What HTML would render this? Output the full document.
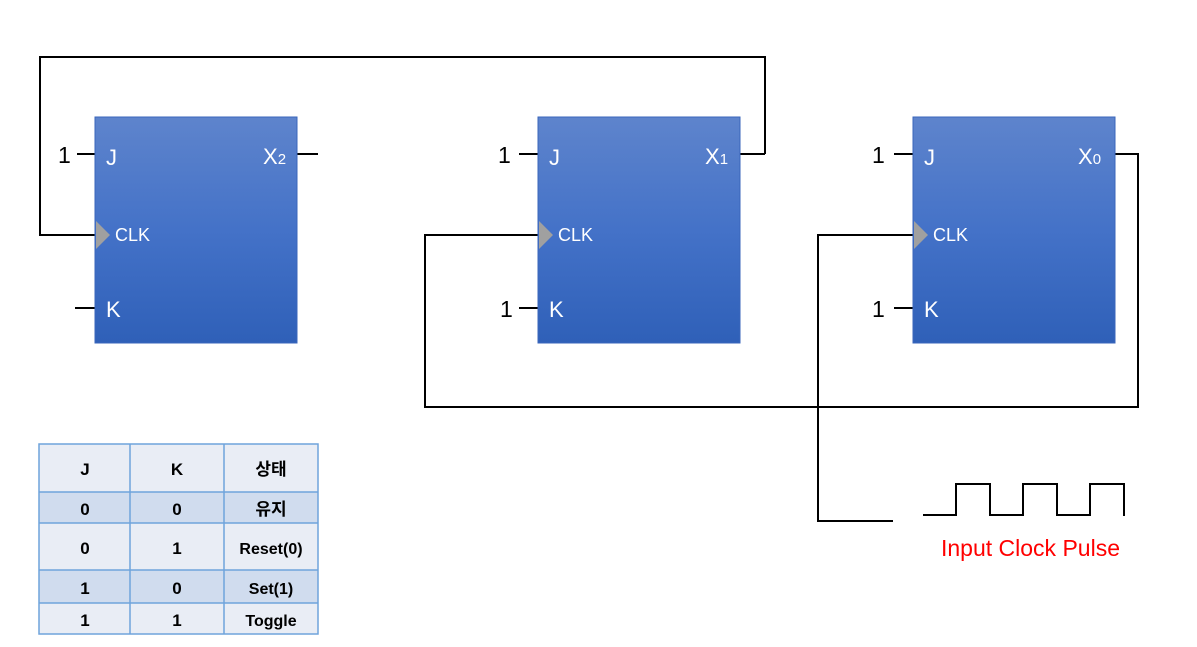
<!DOCTYPE html>
<html><head><meta charset="utf-8"><style>
html,body{margin:0;padding:0;background:#fff;width:1197px;height:647px;overflow:hidden}
svg text{font-family:"Liberation Sans","Noto Sans CJK KR",sans-serif}
</style></head><body>
<svg width="1197" height="647" viewBox="0 0 1197 647" xmlns="http://www.w3.org/2000/svg">
<defs>
<linearGradient id="g" x1="0" y1="0" x2="0" y2="1">
<stop offset="0" stop-color="#5e84cc"/><stop offset="0.5" stop-color="#4472c8"/><stop offset="1" stop-color="#2f60b8"/>
</linearGradient>
</defs>
<g fill="none" stroke="#000" stroke-width="2">
<polyline points="765,154 765,57 40,57 40,235 95,235"/>
<line x1="740" y1="154" x2="765" y2="154"/>
<polyline points="1115,154 1138,154 1138,407 425,407 425,235 538,235"/>
<polyline points="913,235 818,235 818,521 893,521"/>
<polyline points="923,515 956,515 956,484 990,484 990,515 1023,515 1023,484 1057,484 1057,515 1090,515 1090,484 1124,484 1124,516"/>
<line x1="297" y1="154" x2="318" y2="154"/>
<line x1="77" y1="154" x2="95" y2="154"/><line x1="75" y1="308" x2="95" y2="308"/>
<line x1="519" y1="154" x2="538" y2="154"/><line x1="519" y1="308" x2="538" y2="308"/>
<line x1="894" y1="154" x2="913" y2="154"/><line x1="894" y1="308" x2="913" y2="308"/>
</g>
<g>
<rect x="95" y="117" width="202" height="226" fill="url(#g)" stroke="#3a66bb"/>
<rect x="538" y="117" width="202" height="226" fill="url(#g)" stroke="#3a66bb"/>
<rect x="913" y="117" width="202" height="226" fill="url(#g)" stroke="#3a66bb"/>
<polygon points="96,221 110,235 96,249" fill="#a0a0a0"/>
<polygon points="539,221 553,235 539,249" fill="#a0a0a0"/>
<polygon points="914,221 928,235 914,249" fill="#a0a0a0"/>
</g>
<g font-size="23" fill="#000">
<text x="58" y="163">1</text><text x="498" y="163">1</text><text x="872" y="163">1</text>
<text x="500" y="317">1</text><text x="872" y="317">1</text>
</g>
<g fill="#fff">
<g font-size="22"><text x="106" y="165">J</text><text x="549" y="165">J</text><text x="924" y="165">J</text>
<text x="106" y="317">K</text><text x="549" y="317">K</text><text x="924" y="317">K</text>
<text x="263" y="164">X<tspan font-size="15">2</tspan></text>
<text x="705" y="164">X<tspan font-size="15">1</tspan></text>
<text x="1078" y="164">X<tspan font-size="15">0</tspan></text></g>
<g font-size="18"><text x="115" y="241">CLK</text><text x="558" y="241">CLK</text><text x="933" y="241">CLK</text></g>
</g>
<text x="941" y="556" font-size="23" fill="#f00">Input Clock Pulse</text>
<g>
<rect x="39" y="444" width="279" height="48" fill="#e9edf5"/>
<rect x="39" y="492" width="279" height="31" fill="#d0dcee"/>
<rect x="39" y="523" width="279" height="47" fill="#e9edf5"/>
<rect x="39" y="570" width="279" height="33" fill="#d0dcee"/>
<rect x="39" y="603" width="279" height="31" fill="#e9edf5"/>
<g stroke="#6fa3dc" stroke-width="1.5" fill="none">
<rect x="39" y="444" width="279" height="190"/>
<line x1="130" y1="444" x2="130" y2="634"/><line x1="224" y1="444" x2="224" y2="634"/>
<line x1="39" y1="492" x2="318" y2="492"/><line x1="39" y1="523" x2="318" y2="523"/>
<line x1="39" y1="570" x2="318" y2="570"/><line x1="39" y1="603" x2="318" y2="603"/>
</g>
<g font-size="17" font-weight="bold" text-anchor="middle" fill="#000">
<text x="85" y="475">J</text><text x="177" y="475">K</text><text x="271" y="475">상태</text>
<text x="85" y="515">0</text><text x="177" y="515">0</text><text x="271" y="515">유지</text>
<text x="85" y="554">0</text><text x="177" y="554">1</text><text x="271" y="554" font-size="16">Reset(0)</text>
<text x="85" y="594">1</text><text x="177" y="594">0</text><text x="271" y="594" font-size="16">Set(1)</text>
<text x="85" y="626">1</text><text x="177" y="626">1</text><text x="271" y="626" font-size="16">Toggle</text>
</g>
</g>
</svg>
</body></html>
